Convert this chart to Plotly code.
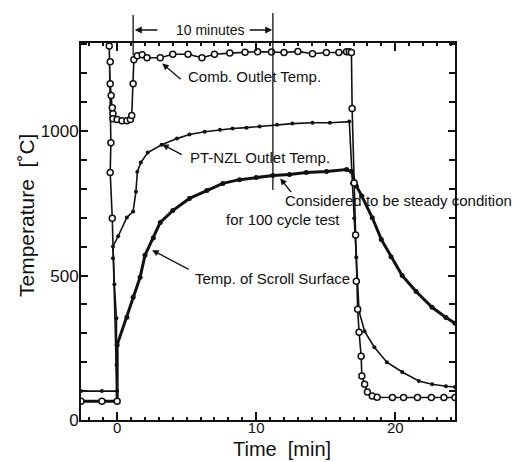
import plotly.graph_objects as go

# ---------------- data ----------------
comb_t = [-2.6, -1.1, 0.0, -0.35, -0.5, -0.45, -0.57, -0.5, -0.5, -0.43, -0.35, -0.3, -0.3,
          0.0, 0.35, 0.7, 0.95, 1.05, 1.15, 1.2, 1.45, 1.8, 2.15, 3.1, 4.0, 5.1, 6.1, 7.0,
          8.1, 9.2, 10.1, 11.1, 12.0, 13.0, 14.05, 15.05, 15.95, 16.5, 16.7, 16.85, 16.9,
          17.05, 17.15, 17.2, 17.3, 17.4, 17.55, 17.6, 17.8, 18.0, 18.35, 18.7, 19.8, 20.6,
          21.6, 22.6, 23.5, 24.3]
comb_T = [65, 65, 65, 698, 857, 960, 1295, 1240, 1164, 1123, 1081, 1060, 1043,
          1040, 1036, 1036, 1040, 1054, 1164, 1247, 1261, 1264, 1254, 1254, 1266, 1266, 1254, 1266,
          1270, 1273, 1275, 1274, 1272, 1276, 1268, 1272, 1272, 1275, 1275, 1272, 1078,
          820, 640, 480, 383, 304, 221, 152, 124, 97, 83, 79, 78, 78,
          78, 78, 78, 78]

nzl_t = [-2.6, -1.1, 0.0, -0.05, -0.05, -0.2, -0.3, -0.3, 0.07, 0.7, 1.15, 1.35, 1.45, 1.7,
         2.2, 3.2, 4.3, 5.2, 6.3, 7.4, 8.3, 9.3, 10.25, 11.5, 12.6, 14.05, 15.3, 16.7,
         16.9, 17.05, 17.2, 17.4, 17.8, 18.5, 19.4, 20.5, 21.7, 22.65, 23.65, 24.3]
nzl_T = [100, 100, 100, 190, 352, 470, 560, 601, 636, 701, 722, 790, 859, 891,
         926, 953, 974, 988, 998, 1005, 1009, 1012, 1016, 1022, 1026, 1029, 1029, 1033,
         819, 698, 563, 376, 307, 252, 200, 166, 135, 124, 117, 114]

scroll_t = [-2.6, -1.1, 0.0, 0.0, 0.7, 1.15, 1.65, 2.0, 2.6, 3.1, 4.0, 5.2, 6.45, 7.6, 8.8,
            10.0, 11.2, 12.4, 13.6, 15.05, 16.5, 16.85, 17.2, 17.6, 18.35, 19.0, 19.7, 20.5,
            21.5, 22.65, 23.65, 24.3]
scroll_T = [65, 65, 65, 260, 356, 425, 494, 570, 630, 684, 725, 767, 794, 819, 832,
            839, 846, 850, 857, 860, 867, 860, 810, 775, 700, 625, 565, 500,
            445, 390, 355, 335]

x_range = [-2.6, 24.3]
y_range = [0, 1305]
x_ticks = [0, 10, 20]
y_ticks = [0, 500, 1000]
mark_start, mark_end = 1.15, 11.2   # the "10 minutes" markers

FONT = "Liberation Sans, Arial, sans-serif"
BLACK = "#111111"

fig = go.Figure()
fig.add_trace(go.Scatter(x=scroll_t, y=scroll_T, mode="lines+markers",
                         line=dict(color=BLACK, width=3),
                         marker=dict(size=5, color=BLACK)))
fig.add_trace(go.Scatter(x=nzl_t, y=nzl_T, mode="lines+markers",
                         line=dict(color=BLACK, width=1.6),
                         marker=dict(size=4, color=BLACK)))
fig.add_trace(go.Scatter(x=comb_t, y=comb_T, mode="lines+markers",
                         line=dict(color=BLACK, width=1.6),
                         marker=dict(size=6, color="white", symbol="circle",
                                     line=dict(color=BLACK, width=1.5))))

W, H = 519, 462
ml, mr, mt, mb = 81, 64, 43, 42
pw, ph = W - ml - mr, H - mt - mb

def px_x(p):
    return (p - ml) / pw

def px_y(p):
    return (H - mb - p) / ph

def data_y(v):
    return (v - y_range[0]) / (y_range[1] - y_range[0])

shapes = [
    dict(type="line", xref="x", yref="paper", x0=mark_start, x1=mark_start,
         y0=data_y(1262), y1=px_y(15), line=dict(color=BLACK, width=1.3)),
    dict(type="line", xref="x", yref="paper", x0=mark_end, x1=mark_end,
         y0=px_y(190), y1=px_y(13), line=dict(color=BLACK, width=1.3)),
]

ann = []
# "10 minutes" arrows
ann.append(dict(xref="x", yref="paper", x=mark_start + 0.12, y=px_y(30), ax=24, ay=0,
                text="", showarrow=True, arrowhead=2, arrowsize=1, arrowwidth=1.4,
                arrowcolor=BLACK))
ann.append(dict(xref="x", yref="paper", x=mark_end - 0.05, y=px_y(30), ax=-24, ay=0,
                text="", showarrow=True, arrowhead=2, arrowsize=1, arrowwidth=1.4,
                arrowcolor=BLACK))
ann.append(dict(xref="x", yref="paper", x=(mark_start + mark_end) / 2 + 0.5, y=px_y(30),
                text="10 minutes", showarrow=False, xanchor="center", yanchor="middle",
                font=dict(size=14, family=FONT, color=BLACK)))

# pointer arrows
for (tx, ty, ax, ay) in [(3.24, 1234, 20, 17), (3.24, 954, 21, 11),
                          (11.73, 836, 12, 15), (2.52, 588, 38, 20)]:
    ann.append(dict(xref="x", yref="y", x=tx, y=ty, ax=ax, ay=ay, text="",
                    showarrow=True, arrowhead=2, arrowsize=1, arrowwidth=1.3,
                    arrowcolor=BLACK))

def label(text, x, y, anchor="left"):
    ann.append(dict(xref="paper", yref="paper", x=px_x(x), y=px_y(y), text=text,
                    showarrow=False, xanchor=anchor, yanchor="middle",
                    font=dict(size=15, family=FONT, color=BLACK)))

label("Comb. Outlet Temp.", 186, 77)
label("PT-NZL Outlet Temp.", 188, 157)
label("Considered to be steady condition", 283, 200)
label("for 100 cycle test", 342, 220, "right")
label("Temp. of Scroll Surface", 193, 278)

# axis titles
ann.append(dict(xref="paper", yref="paper", x=px_x(26), y=px_y(216), text="Temperature  [˚C]",
                textangle=-90, showarrow=False, xanchor="center", yanchor="middle",
                font=dict(size=21, family=FONT, color=BLACK)))
ann.append(dict(xref="paper", yref="paper", x=px_x(282), y=px_y(449), text="Time  [min]",
                showarrow=False, xanchor="center", yanchor="middle",
                font=dict(size=20, family=FONT, color=BLACK)))

fig.update_layout(
    width=W, height=H, margin=dict(l=ml, r=mr, t=mt, b=mb),
    paper_bgcolor="white", plot_bgcolor="white", showlegend=False,
    font=dict(family=FONT, color=BLACK),
    shapes=shapes, annotations=ann,
)
fig.update_xaxes(range=x_range, tickvals=x_ticks, ticks="inside", ticklen=8, tickwidth=1.5,
                 tickcolor=BLACK, showline=True, linewidth=2, linecolor=BLACK, mirror="ticks",
                 showgrid=False, zeroline=False, tickfont=dict(size=15, family=FONT),
                 ticklabelstandoff=-7,
                 minor=dict(dtick=1, tick0=0, ticks="inside", ticklen=3, tickcolor=BLACK,
                            showgrid=False))
fig.update_yaxes(range=y_range, tickvals=y_ticks, ticks="inside", ticklen=7, tickwidth=1.5,
                 tickcolor=BLACK, showline=True, linewidth=2, linecolor=BLACK, mirror="ticks",
                 showgrid=False, zeroline=False, tickfont=dict(size=17, family=FONT),
                 ticklabelstandoff=-3,
                 minor=dict(dtick=100, tick0=0, ticks="inside", ticklen=6, tickcolor=BLACK,
                            showgrid=False))

fig.write_html("out.html")
